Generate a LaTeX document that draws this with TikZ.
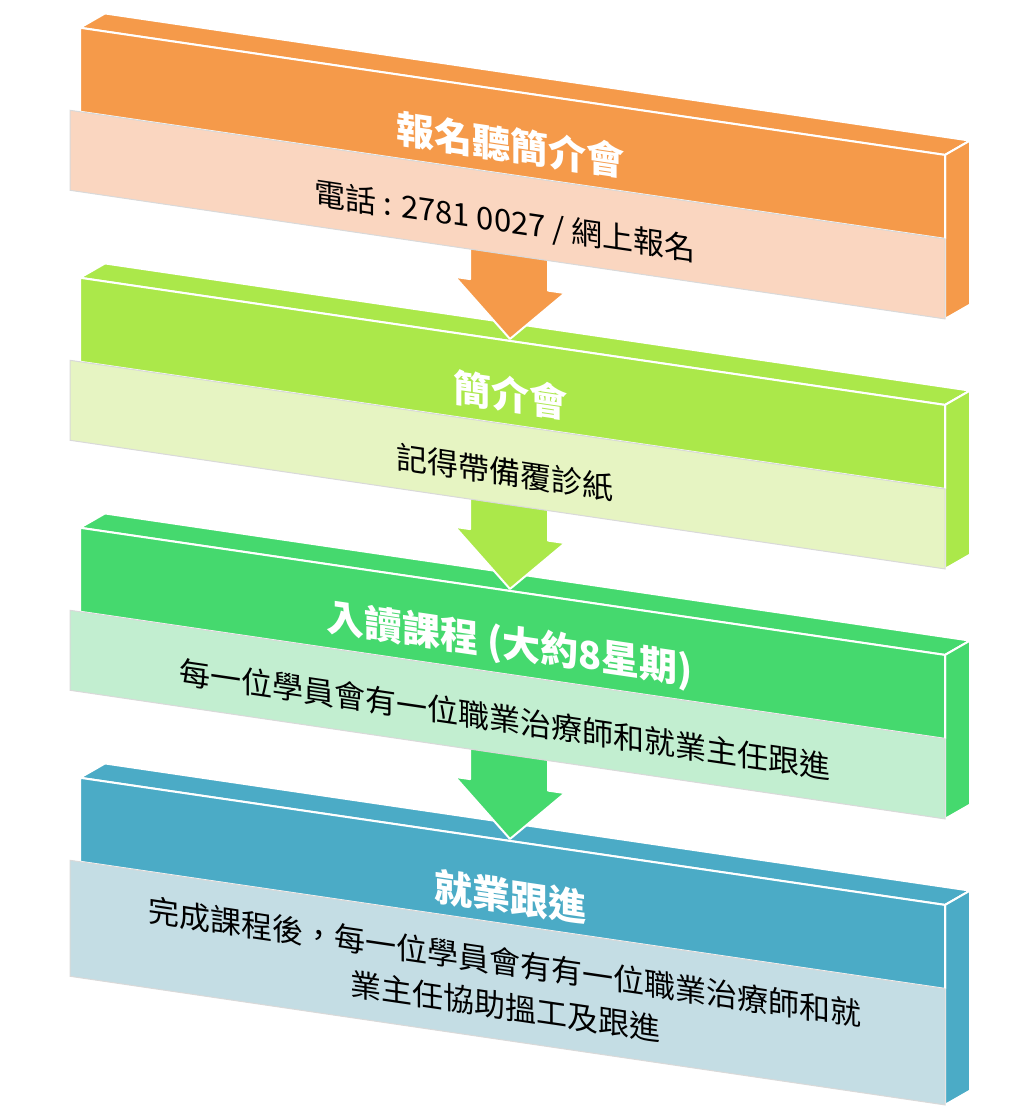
\documentclass[tikz,border=0pt]{standalone}
\usepackage{fontspec}
\setmainfont{Noto Sans CJK TC}
\usetikzlibrary{positioning}
\definecolor{orD}{HTML}{F59A4A}\definecolor{orL}{HTML}{FAD6C0}
\definecolor{grD}{HTML}{ABE84A}\definecolor{grL}{HTML}{E6F4C2}
\definecolor{gnD}{HTML}{45D96E}\definecolor{gnL}{HTML}{C2EED0}
\definecolor{blD}{HTML}{4BABC6}\definecolor{blL}{HTML}{C4DDE4}
\tikzset{face/.style={draw=white, line width=2pt, line join=round}}
\tikzset{ttl/.style={text=white, font=\fontsize{38}{40}\selectfont\bfseries, transform shape}}
\tikzset{sub/.style={text=black, font=\fontsize{31}{44}\selectfont, align=center, transform shape}}
% #1 offset, #2 dark, #3 light, #4 light bottom
\newcommand{\stagebox}[4]{%
  \fill[face, fill=#2] (80,#1+16) -- (105,#1-2) -- (970,#1-2) -- (945,#1+16) -- cycle;
  \fill[face, fill=#2] (945,#1+16) -- (970,#1-2) -- (970,#1+#4-18) -- (945,#1+#4) -- cycle;
  \fill[face, fill=#2] (80,#1+16) rectangle (945,#1+100);
  \fill[draw=white!85!black, line width=1pt, fill=#3] (70,#1+100) rectangle (945,#1+#4);}
\newcommand{\flowarrow}[2]{%
  \fill[face, fill=#2] (470,#1+150) -- (548,#1+150) -- (548,#1+210) -- (565,#1+210)
    -- (510,#1+264) -- (455,#1+210) -- (470,#1+210) -- cycle;}
\begin{document}
\begin{tikzpicture}[x=1pt,y=-1pt]
\useasboundingbox (0,0) rectangle (1018,1113);
\begin{scope}[yslant=-0.147]
  % stage 4
  \stagebox{750}{blD}{blL}{216}
  \node[ttl] (t4) at (510,822) {就業跟進};
  \node[sub] (s4) at (505,910) {完成課程後，每一位學員會有有一位職業治療師和就\\業主任協助搵工及跟進};
  \flowarrow{500}{gnD}
  % stage 3
  \stagebox{500}{gnD}{gnL}{180}
  \node[ttl] (t3) at (510,570) {入讀課程 (大約8星期)};
  \node[sub] (s3) at (505,645) {每一位學員會有一位職業治療師和就業主任跟進};
  \flowarrow{250}{grD}
  % stage 2
  \stagebox{250}{grD}{grL}{180}
  \node[ttl] (t2) at (510,320) {簡介會};
  \node[sub] (s2) at (505,398) {記得帶備覆診紙};
  \flowarrow{0}{orD}
  % stage 1
  \stagebox{0}{orD}{orL}{180}
  \node[ttl] (t1) at (510,70) {報名聽簡介會};
  \node[sub] (s1) at (505,148) {電話 : 2781 0027 / 網上報名};
\end{scope}
\end{tikzpicture}
\end{document}
